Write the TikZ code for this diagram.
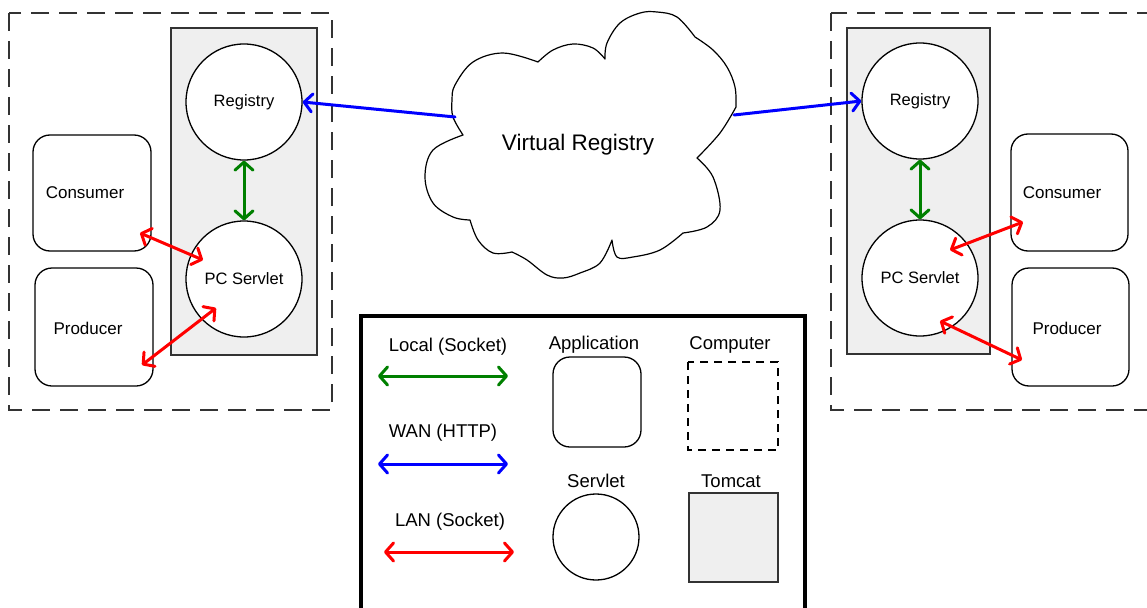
\documentclass[tikz,border=0pt]{standalone}
\usepackage{fontspec}
\setmainfont{Liberation Sans}
\usetikzlibrary{arrows.meta,calc}
\definecolor{tomgray}{HTML}{EFEFEF}
\definecolor{lgreen}{HTML}{008000}
\tikzset{
  comp/.style={draw=black!80, line width=1.3pt, dash pattern=on 18pt off 10pt},
  tomcat/.style={draw=black!80, fill=tomgray, line width=1.2pt, rectangle, inner sep=0pt},
  servlet/.style={draw=black, fill=white, line width=1.3pt, circle, inner sep=0pt, minimum size=116pt, font=\fontsize{16.5}{18}\selectfont},
  appbox/.style={draw=black, fill=white, line width=1.3pt, rectangle, rounded corners=17pt, inner sep=0pt},
  lbl/.style={font=\fontsize{17}{18}\selectfont, inner sep=0pt},
  leg/.style={font=\fontsize{18.5}{20}\selectfont, inner sep=0pt},
  barb/.tip={Straight Barb[length=8pt,width=18pt,line cap=round,line join=round]},
  conn/.style={line width=3pt, line cap=round, barb-barb},
  loc/.style={conn, draw=lgreen},
  wan/.style={conn, draw=blue},
  wan1/.style={line width=3pt, line cap=round, -barb, draw=blue},
  lan/.style={conn, draw=red},
}
\begin{document}
\begin{tikzpicture}[x=1pt,y=-1pt]
\useasboundingbox (0,0) rectangle (1147,607);
% computers
\draw[comp] (9,13) rectangle (332,410);
\draw[comp] (831,13) rectangle (1170,410);
% tomcats
\node[tomcat, minimum width=146pt, minimum height=327pt] (tomL) at (244,191.5) {};
\node[tomcat, minimum width=143pt, minimum height=326pt] (tomR) at (918.5,191) {};
% servlets
\node[servlet] (regL) at (244,102) {Registry};
\node[servlet] (pcL) at (244,279) {PC Servlet};
\node[servlet] (regR) at (920,101) {Registry};
\node[servlet] (pcR) at (920,278) {PC Servlet};
% applications
\node[appbox, minimum width=118pt, minimum height=116pt] (conL) at (92,193) {};
\node[lbl] (conLt) at (85,193) {Consumer};
\node[appbox, minimum width=118pt, minimum height=118pt] (prL) at (94,327) {};
\node[lbl] (prLt) at (88,328) {Producer};
\node[appbox, minimum width=117pt, minimum height=117pt] (conR) at (1069.5,192.5) {};
\node[lbl] (conRt) at (1062,193) {Consumer};
\node[appbox, minimum width=117pt, minimum height=118pt] (prR) at (1070.5,327) {};
\node[lbl] (prRt) at (1067,328) {Producer};
% cloud
\draw[line width=1.2pt, fill=white, line join=round]
  plot[smooth, tension=0.6] coordinates {(463,135) (453,117) (452,100) (455,85) (473,62) (503,53) (538,62)}
  -- plot[smooth, tension=0.6] coordinates {(538,62) (553,50) (573,44) (593,48) (605,59)}
  -- plot[smooth, tension=0.6] coordinates {(605,59) (607,43) (620,23) (640,13) (657,12) (677,17) (695,37)}
  -- plot[smooth, tension=0.6] coordinates {(695,37) (713,50) (727,67) (735,87) (736,107)}
  -- plot[smooth, tension=0.6] coordinates {(736,107) (720,133) (697,158)}
  -- plot[smooth, tension=0.6] coordinates {(697,158) (713,177) (720,210) (707,227) (683,233)}
  -- plot[smooth, tension=0.6] coordinates {(683,233) (660,250) (633,257) (617,257) (612,240)}
  -- plot[smooth, tension=0.6] coordinates {(612,240) (600,263) (580,273) (563,278) (547,275) (527,260) (512,252)}
  -- plot[smooth, tension=0.6] coordinates {(512,252) (493,253) (478,240) (470,220)}
  -- plot[smooth, tension=0.6] coordinates {(470,220) (453,217) (433,203) (425,177) (433,150) (463,135)}
  -- cycle;
\node[font=\fontsize{22.5}{24}\selectfont, inner sep=0pt] (cloud) at (578,145) {Virtual Registry};
\coordinate (cloudL) at (455,117);
\coordinate (cloudR) at (734,115);
% connectors
\draw[wan1] (cloudL) -- (regL.east);
\draw[wan1] (cloudR) -- (regR.west);
\draw[loc] (regL.south) -- (pcL.north);
\draw[loc] (regR.south) -- (pcR.north);
\draw[lan] ($(conL.center)+(48,40)$) -- ($(pcL.center)+(-41,-19)$);
\draw[lan] ($(prL.center)+(48,38)$) -- ($(pcL.center)+(-28,29)$);
\draw[lan] ($(pcR.center)+(30,-28)$) -- ($(conR.center)+(-46.5,29.5)$);
\draw[lan] ($(pcR.center)+(20,43)$) -- ($(prR.center)+(-48.5,33)$);
% legend
\draw[line width=3.5pt] (361,316) rectangle (805,650);
\node[leg] (tLoc) at (448,347) {Local (Socket)};
\coordinate (locA) at (378,376); \coordinate (locB) at (508,376);
\draw[loc] (locA) -- (locB);
\node[leg] (tWan) at (443,433) {WAN (HTTP)};
\coordinate (wanA) at (378,464); \coordinate (wanB) at (508,464);
\draw[wan] (wanA) -- (wanB);
\node[leg] (tLan) at (450,522) {LAN (Socket)};
\coordinate (lanA) at (384,552); \coordinate (lanB) at (514,552);
\draw[lan] (lanA) -- (lanB);
\node[leg] (tApp) at (594,345) {Application};
\node[appbox, minimum width=88pt, minimum height=90pt] (legApp) at (597,402) {};
\node[leg] (tComp) at (730,345) {Computer};
\draw[line width=1.2pt, dash pattern=on 8pt off 6pt] (688,362) rectangle (778,450);
\node[leg] (tServ) at (596,481) {Servlet};
\node[servlet, minimum size=86pt] (legServ) at (596,537) {};
\node[leg] (tTom) at (731,481) {Tomcat};
\node[tomcat, minimum width=89pt, minimum height=89pt] (legTom) at (733.5,537.5) {};
\end{tikzpicture}
\end{document}
